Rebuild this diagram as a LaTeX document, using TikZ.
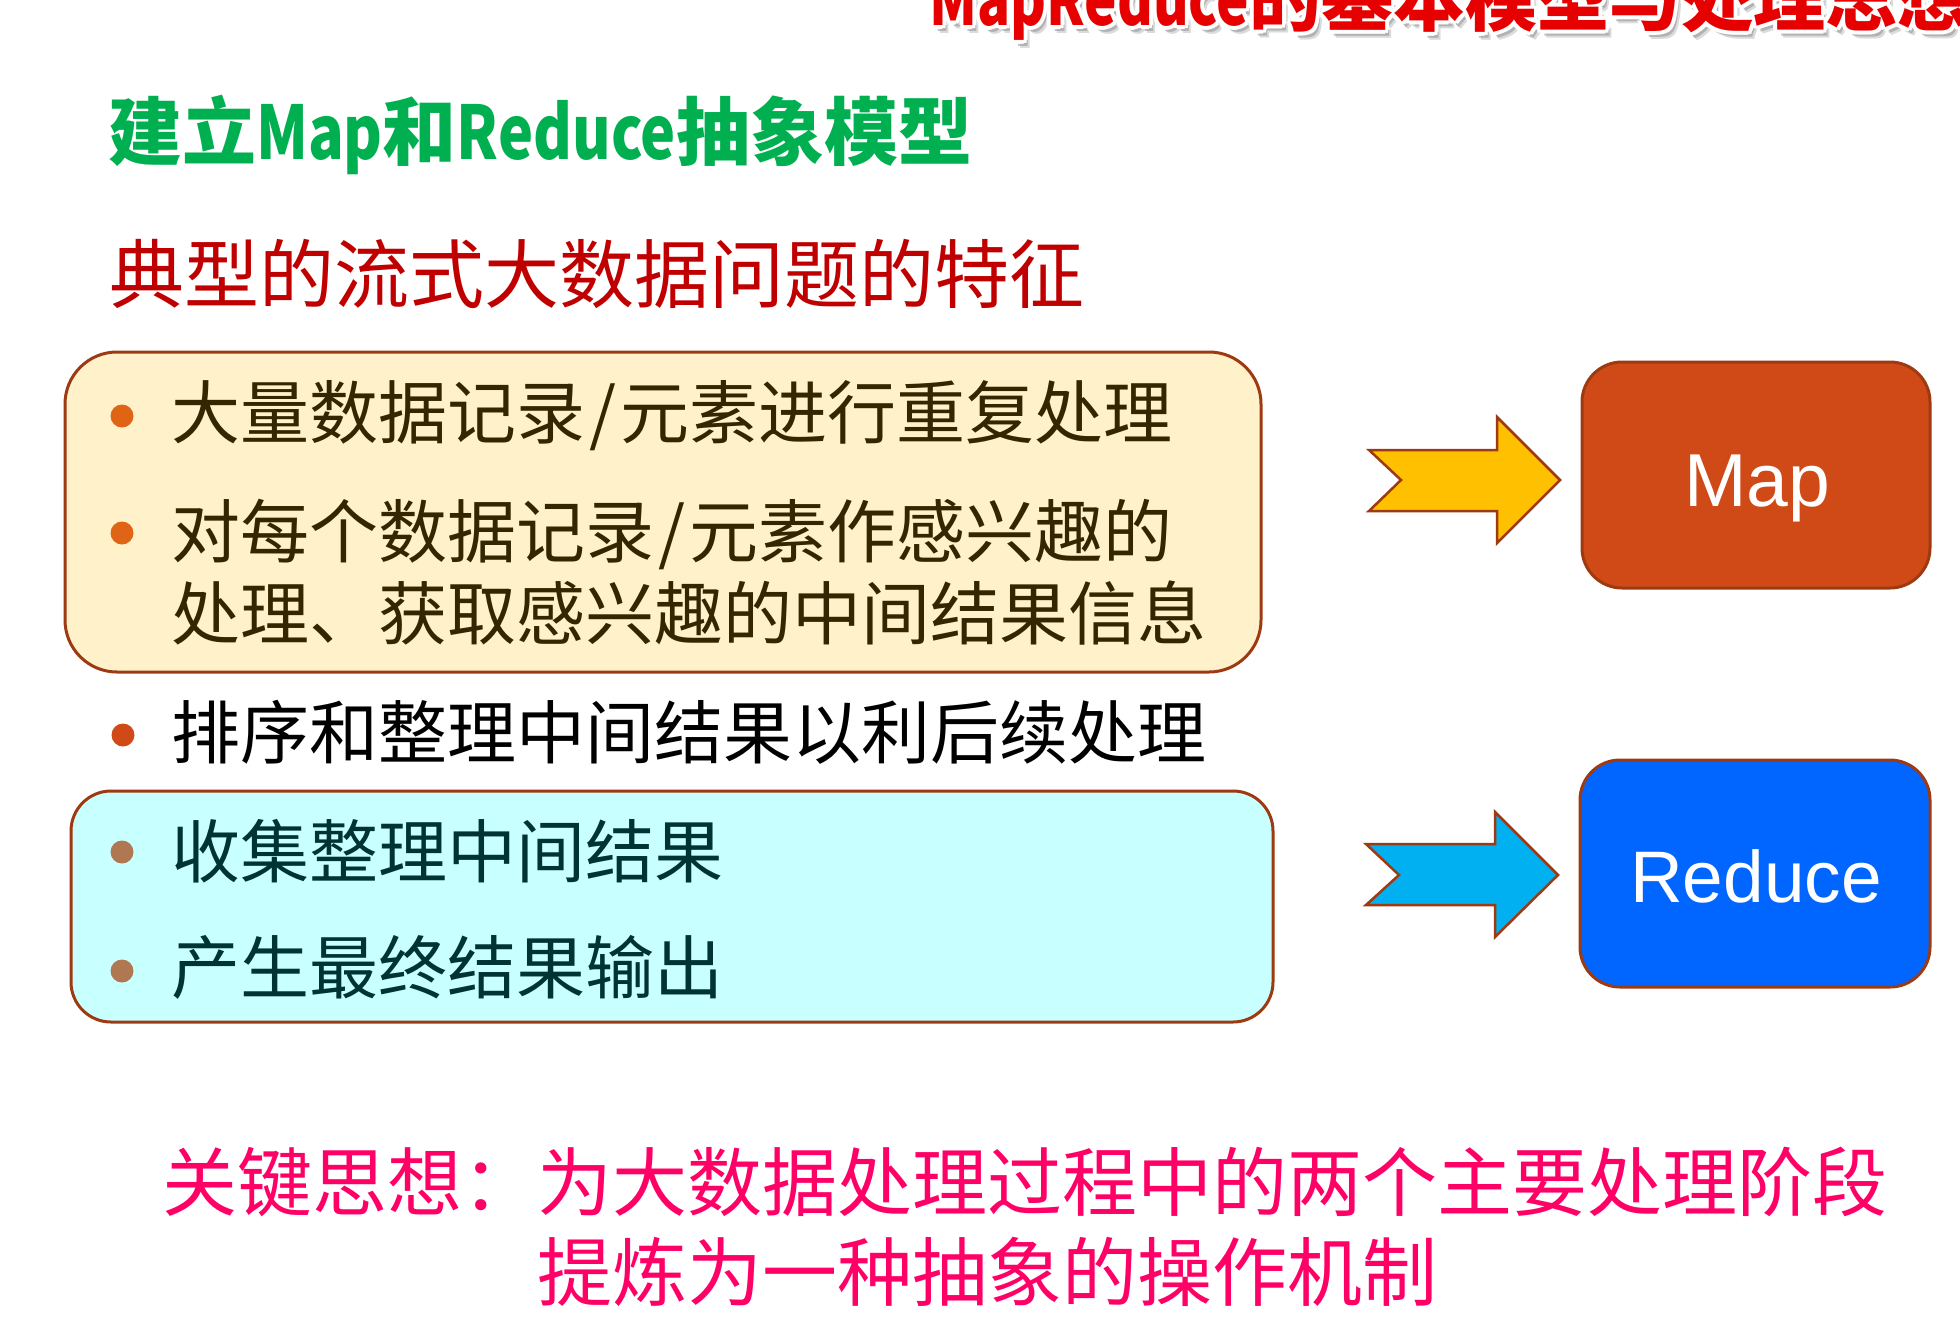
\documentclass[tikz,border=0pt]{standalone}
\usepackage{fontspec}
\newfontfamily\cjk{Noto Sans CJK SC}
\newfontfamily\latin{Liberation Sans}
\definecolor{brd}{RGB}{158,58,18}
\definecolor{headgreen}{RGB}{0,176,80}
\definecolor{headred}{RGB}{192,0,0}
\definecolor{keypink}{RGB}{255,0,102}
\definecolor{ylwfill}{RGB}{255,241,202}
\definecolor{cyanfill}{RGB}{200,255,255}
\definecolor{mapfill}{RGB}{208,74,24}
\definecolor{redfill}{RGB}{0,102,255}
\definecolor{arrowyellow}{RGB}{255,192,0}
\definecolor{arrowcyan}{RGB}{0,176,240}
\definecolor{ytext}{RGB}{51,38,0}
\definecolor{ctext}{RGB}{0,51,51}
\definecolor{ydot}{RGB}{224,100,22}
\definecolor{mdot}{RGB}{208,74,24}
\definecolor{cdot}{RGB}{176,120,80}
\definecolor{titlered}{RGB}{230,0,0}
\tikzset{
  txt/.style={inner sep=0pt, anchor=base west},
  bodytext/.style={txt, font=\cjk\fontsize{69}{82}\selectfont},
  roundbox/.style={draw=brd, line width=3pt, inner sep=0pt},
  bulletdot/.style={circle, inner sep=0pt, minimum size=23pt},
  blockarrow/.style={draw=brd, line width=2.5pt, line join=miter},
  stagebox/.style={roundbox, rounded corners=40pt},
  titlefont/.style={txt, font=\cjk\bfseries\fontsize{72}{80}\selectfont},
}
% narrowed Latin letters inside the CJK headings
\newcommand{\narrow}[2]{\scalebox{#1}[1]{#2}}
\newcommand{\titletext}{\narrow{0.76}{MapReduce}的基本模型与处理思想}
\newcommand{\slashsep}{\kern4pt/\kern4pt}
\begin{document}
\begin{tikzpicture}[x=1pt,y=-1pt]
\useasboundingbox (0,0) rectangle (1960,1326);

% slide title (cut by the top edge): soft shadow, white rim, red face
\node[titlefont, text=black!40, opacity=0.35] (titleshadowa) at (935,33) {\titletext};
\node[titlefont, text=black!50, opacity=0.45] (titleshadowb) at (933,31) {\titletext};
\foreach \dx/\dy in {-4/0,4/0,0/-4,0/4,-3/-3,3/3,-3/3,3/-3}
  \node[titlefont, text=white] at (929+\dx,25+\dy) {\titletext};
\node[titlefont, text=titlered] (title) at (929,25) {\titletext};

% headings
\node[txt, font=\cjk\bfseries\fontsize{74}{80}\selectfont, text=headgreen] (model) at (108,159)
  {建立\narrow{0.8}{Map}和\narrow{0.8}{Reduce}抽象模型};
\node[txt, font=\cjk\fontsize{75}{80}\selectfont, text=headred] (feature) at (109,302) {典型的流式大数据问题的特征};

% grouping boxes
\node[roundbox, rounded corners=52pt, fill=ylwfill, minimum width=1196pt, minimum height=320pt] (mapgroup) at (663,512) {};
\node[roundbox, rounded corners=40pt, fill=cyanfill, minimum width=1202pt, minimum height=231pt] (redgroup) at (672,906.5) {};

% bullet points
\node[bulletdot, fill=ydot] (d1) at (122,416) {};
\node[bodytext, text=ytext] (l1) at (171,438) {大量数据记录\slashsep 元素进行重复处理};
\node[bulletdot, fill=ydot] (d2) at (122,533) {};
\node[bodytext, text=ytext] (l2) at (171,557) {对每个数据记录\slashsep 元素作感兴趣的};
\node[bodytext, text=ytext] (l3) at (171,639) {处理、获取感兴趣的中间结果信息};
\node[bulletdot, fill=mdot] (d3) at (123,735) {};
\node[bodytext, text=black] (l4) at (171,758) {排序和整理中间结果以利后续处理};
\node[bulletdot, fill=cdot] (d4) at (122,852) {};
\node[bodytext, text=ctext] (l5) at (171,877) {收集整理中间结果};
\node[bulletdot, fill=cdot] (d5) at (122,971) {};
\node[bodytext, text=ctext] (l6) at (171,993) {产生最终结果输出};

% stage boxes
\node[stagebox, fill=mapfill, minimum width=348pt, minimum height=226pt] (map) at (1756,475) {};
\node[stagebox, fill=redfill, minimum width=350pt, minimum height=227pt] (reduce) at (1755,873.5) {};
\node[txt, anchor=base, text=white, font=\latin\fontsize{75}{80}\selectfont] (maplabel) at (1757,506) {Map};
\node[txt, anchor=base, text=white, font=\latin\fontsize{73}{80}\selectfont] (reducelabel) at (1756,902) {Reduce};

% block arrows pointing at the stage boxes
\draw[blockarrow, fill=arrowyellow] (1369,450) -- (1497,450) -- (1497,417) -- (1560,480)
  -- (1497,543) -- (1497,511) -- (1369,511) -- (1401,480) -- cycle;
\draw[blockarrow, fill=arrowcyan] (1366,844) -- (1495,844) -- (1495,812) -- (1558,875)
  -- (1495,937) -- (1495,905) -- (1366,905) -- (1399,875) -- cycle;

% key idea
\node[txt, font=\cjk\fontsize{75}{80}\selectfont, text=keypink] (key1) at (162,1210) {关键思想：为大数据处理过程中的两个主要处理阶段};
\node[txt, font=\cjk\fontsize{75}{80}\selectfont, text=keypink] (key2) at (537,1300) {提炼为一种抽象的操作机制};
\end{tikzpicture}
\end{document}
